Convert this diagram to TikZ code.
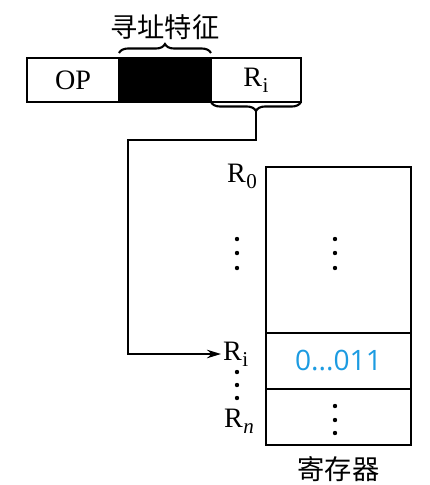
\documentclass[tikz,border=0pt]{standalone}
\usepackage{fontspec}
\setmainfont{Liberation Serif}
\newfontfamily\cjk{Noto Sans CJK SC}
\newfontfamily\numfont{Open Sans}
\usepackage{xcolor}
\usetikzlibrary{decorations.pathreplacing,arrows.meta,calc,positioning}
\definecolor{valblue}{RGB}{28,155,225}
\newcommand{\regname}[1]{R\kern0.3pt\raisebox{-0.45ex}{\fontsize{12}{13}\selectfont #1}}
\tikzset{
  field/.style={
    draw,
    line width=1.2pt,
    outer sep=0pt,
    inner sep=0pt,
    minimum height=0.88cm,
    font=\fontsize{16}{18}\selectfont
  },
  cell/.style={
    draw,
    line width=1.2pt,
    outer sep=0pt,
    inner sep=0pt,
    minimum width=2.9cm,
    minimum height=1.12cm
  },
  reglabel/.style={
    inner sep=1pt,
    font=\fontsize{16}{18}\selectfont
  },
  cjklabel/.style={
    inner sep=0pt,
    font=\cjk\fontsize{15.5}{17}\selectfont
  },
  brace/.style={
    decorate,
    decoration={brace, amplitude=0.18cm},
    line width=1.2pt
  },
  dot/.style={
    fill
  }
}

\begin{document}
\begin{tikzpicture}[x=0.02cm, y=0.02cm]
    \useasboundingbox (0,0) rectangle (430,-485);
    % instruction word
    \node[field, minimum width=1.84cm, anchor=north west] (op) at (27,-58) {OP};
    \node[field, minimum width=1.84cm, fill=black, right=0pt of op] (mode) {};
    \node[field, minimum width=1.8cm, right=0pt of mode] (ri) {\regname{i}};
    \draw[brace] ($(mode.north west)+(0,5)$) -- ($(mode.north east)+(0,5)$)
        node[midway, above=0.25cm, cjklabel] (modelbl) {寻址特征};
    \draw[brace] (ri.south east) -- (ri.south west);
    \coordinate (tip) at ($(ri.south)+(0,-9)$);
    % register file
    \node[cell, minimum height=3.32cm, anchor=north west] (upper) at (266,-167) {};
    \node[cell, below=0pt of upper, text=valblue, font=\numfont\fontsize{16}{18}\selectfont] (rival) {0...011};
    \node[cell, below=0pt of rival] (lower) {};
    \node[cjklabel, below=0.22cm of lower] (regname) {寄存器};
    \node[reglabel] (r0) at (242,-176) {\regname{0}};
    \node[reglabel, anchor=west] (rilbl) at (221,-354) {\regname{i}};
    \node[reglabel] (rn) at (239,-421) {\regname{\textit{n}}};
    % dots
    \foreach \y in {239,253,268} {
        \fill[dot] (237,-\y) circle (2.2);
        \fill[dot] (335,-\y) circle (2.2);
    }
    \foreach \y in {372,385,398} {
        \fill[dot] (237,-\y) circle (2.2);
    }
    \foreach \y in {406,420,433} {
        \fill[dot] (335,-\y) circle (2.2);
    }
    % pointer
    \draw[line width=1.2pt, -{Stealth[length=0.28cm, width=0.17cm]}]
        (tip) -- ++(0,-29) -| (128,-300) |- (rilbl.west);
\end{tikzpicture}
\end{document}
